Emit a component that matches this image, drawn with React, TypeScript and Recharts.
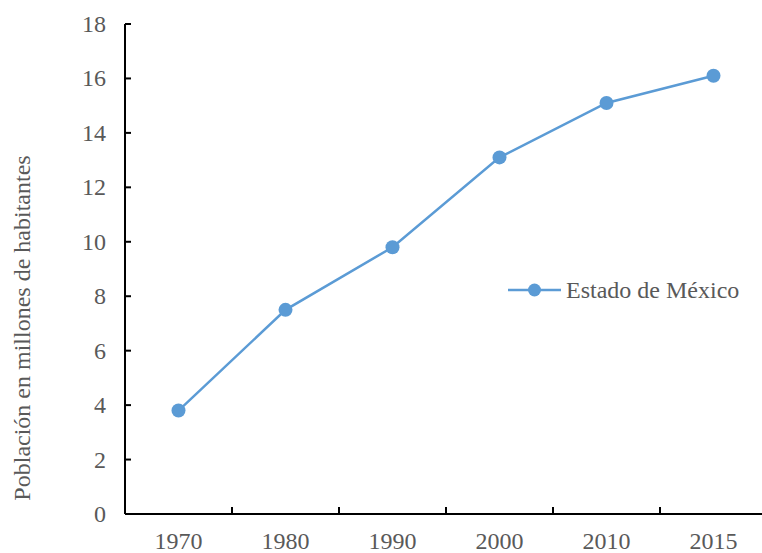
import React from "react";
import { LineChart, Line, XAxis, YAxis, Legend } from "recharts";

// Población del Estado de México (millones)
const years = ["1970", "1980", "1990", "2000", "2010", "2015"];
const population = [3.8, 7.5, 9.8, 13.1, 15.1, 16.1];
const yTicks = [0, 2, 4, 6, 8, 10, 12, 14, 16, 18];

const data = years.map((year, i) => ({ year, value: population[i] }));

const CHART_W = 767;
const CHART_H = 553;
const Y_AXIS_W = 125;
const MARGIN = { top: 24, right: 0, left: 0, bottom: 0 };
const BAND_W = (CHART_W - Y_AXIS_W - MARGIN.left - MARGIN.right) / years.length;

const BLUE = "#5B9BD5";
const TEXT = "#595959";
const FONT = "'Liberation Serif', 'Times New Roman', serif";
const FS = 24;

const XTick = (props: any) => {
  const { x, y, payload, index } = props;
  return (
    <g>
      {index > 0 && (
        <line
          x1={x - BAND_W / 2}
          x2={x - BAND_W / 2}
          y1={y}
          y2={y - 7}
          stroke="#000"
          strokeWidth={2}
        />
      )}
      <text
        x={x}
        y={y + 35}
        textAnchor="middle"
        fill={TEXT}
        fontSize={FS}
        fontFamily={FONT}
      >
        {payload.value}
      </text>
    </g>
  );
};

const YTick = (props: any) => {
  const { x, y, payload } = props;
  return (
    <g>
      <line x1={x} x2={x + 6} y1={y} y2={y} stroke="#000" strokeWidth={2} />
      <text
        x={x - 19}
        y={y + 8}
        textAnchor="end"
        fill={TEXT}
        fontSize={FS}
        fontFamily={FONT}
      >
        {payload.value}
      </text>
    </g>
  );
};

const YLabel = (props: any) => {
  const { viewBox } = props;
  const cx = 22;
  const cy = viewBox.y + viewBox.height / 2 + 59;
  return (
    <text
      x={cx}
      y={cy}
      transform={`rotate(-90, ${cx}, ${cy})`}
      textAnchor="middle"
      dominantBaseline="central"
      fill={TEXT}
      fontSize={FS}
      fontFamily={FONT}
    >
      Población en millones de habitantes
    </text>
  );
};

const LegendContent = () => (
  <svg width={250} height={30}>
    <line x1={0} x2={53} y1={15} y2={15} stroke={BLUE} strokeWidth={2.5} />
    <circle cx={26.5} cy={15} r={6.5} fill={BLUE} />
    <text x={58} y={23} fill={TEXT} fontSize={FS} fontFamily={FONT}>
      Estado de México
    </text>
  </svg>
);

export default function App() {
  return (
    <div
      style={{
        position: "absolute",
        top: 0,
        left: 0,
        width: 762,
        height: CHART_H,
        overflow: "hidden",
        background: "#fff",
      }}
    >
      <LineChart width={CHART_W} height={CHART_H} data={data} margin={MARGIN}>
        <XAxis
          dataKey="year"
          scale="band"
          height={39}
          axisLine={{ stroke: "#000", strokeWidth: 2 }}
          tickLine={false}
          tickSize={0}
          tickMargin={0}
          tick={<XTick />}
          interval={0}
        />
        <YAxis
          domain={[0, 18]}
          ticks={yTicks}
          width={Y_AXIS_W}
          axisLine={{ stroke: "#000", strokeWidth: 2 }}
          tickLine={false}
          tickSize={0}
          tickMargin={0}
          tick={<YTick />}
          interval={0}
          label={<YLabel />}
        />
        <Legend
          layout="horizontal"
          verticalAlign="middle"
          align="center"
          content={<LegendContent />}
          wrapperStyle={{ position: "absolute", left: 508, top: 275, width: 250 }}
        />
        <Line
          dataKey="value"
          stroke={BLUE}
          strokeWidth={2.5}
          dot={{ r: 7, fill: BLUE, stroke: BLUE, strokeWidth: 0 }}
          activeDot={false}
          isAnimationActive={false}
        />
      </LineChart>
    </div>
  );
}
